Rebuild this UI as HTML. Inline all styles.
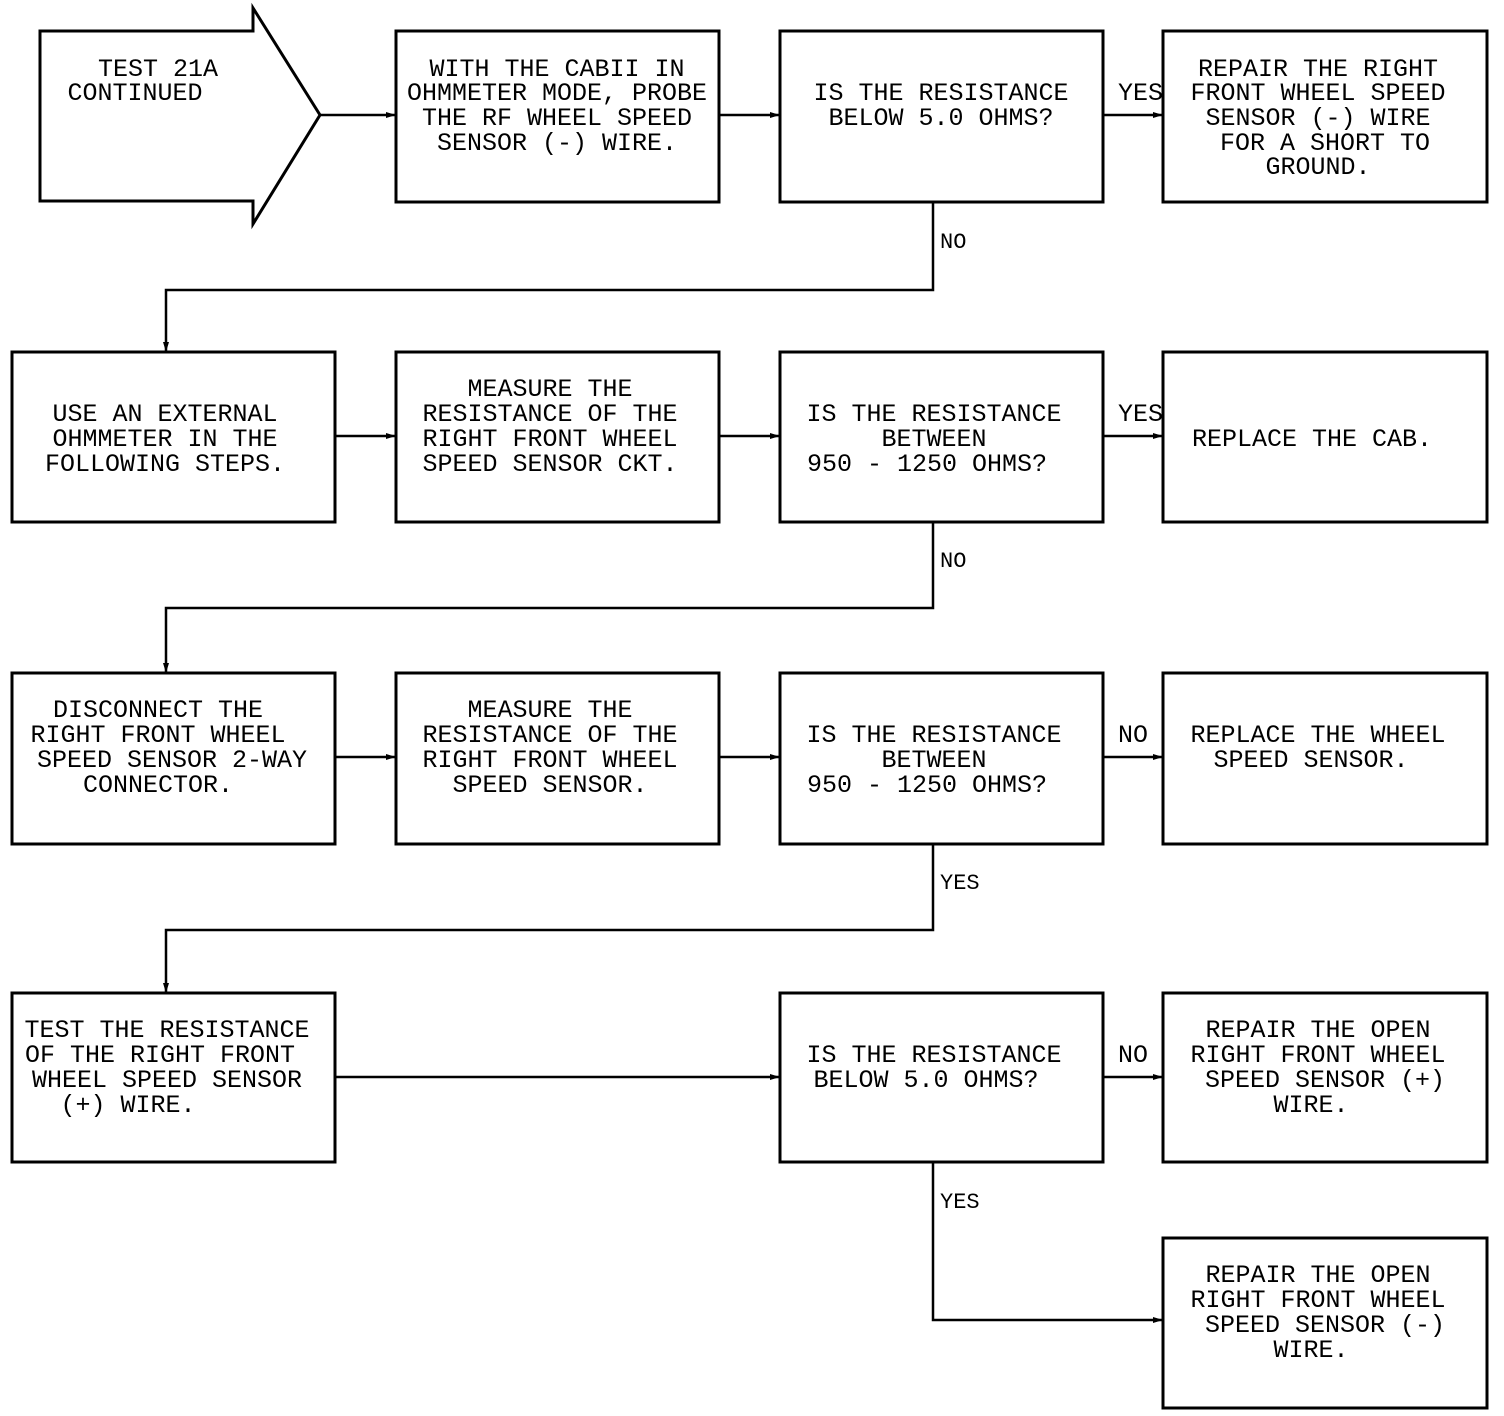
<!DOCTYPE html>
<html><head><style>
html,body{margin:0;padding:0;background:#fff;}
svg{display:block}
text{font-family:"Liberation Mono",monospace;font-size:25px;fill:#000;text-anchor:middle}
.l{text-anchor:start}
</style></head><body>
<svg width="1504" height="1416" viewBox="0 0 1504 1416">
<defs><marker id="a" markerWidth="10" markerHeight="8" refX="9" refY="4" orient="auto" markerUnits="userSpaceOnUse"><path d="M0,1 L10,4 L0,7Z" fill="#000"/></marker></defs>
<g fill="none" stroke="#000" stroke-width="3">
<path d="M40,31 H253 V8 L320,115 L253,224 V201 H40 Z"/>
<rect x="396" y="31" width="323" height="171"/>
<rect x="780" y="31" width="323" height="171"/>
<rect x="1163" y="31" width="324" height="171"/>
<rect x="12" y="352" width="323" height="170"/>
<rect x="396" y="352" width="323" height="170"/>
<rect x="780" y="352" width="323" height="170"/>
<rect x="1163" y="352" width="324" height="170"/>
<rect x="12" y="673" width="323" height="171"/>
<rect x="396" y="673" width="323" height="171"/>
<rect x="780" y="673" width="323" height="171"/>
<rect x="1163" y="673" width="324" height="171"/>
<rect x="12" y="993" width="323" height="169"/>
<rect x="780" y="993" width="323" height="169"/>
<rect x="1163" y="993" width="324" height="169"/>
<rect x="1163" y="1238" width="324" height="170"/>
</g>
<g fill="none" stroke="#000" stroke-width="2.5" marker-end="url(#a)">
<path d="M320,115 H395"/><path d="M719,115 H779"/><path d="M1103,115 H1162"/>
<path d="M933,202 V290 H166 V351"/>
<path d="M335,436 H395"/><path d="M719,436 H779"/><path d="M1103,436 H1162"/>
<path d="M933,522 V608 H166 V672"/>
<path d="M335,757 H395"/><path d="M719,757 H779"/><path d="M1103,757 H1162"/>
<path d="M933,844 V930 H166 V992"/>
<path d="M335,1077 H779"/><path d="M1103,1077 H1162"/>
<path d="M933,1162 V1320 H1162"/>
</g>
<text x="158" y="76">TEST 21A</text>
<text x="135" y="100">CONTINUED</text>
<text x="557" y="76">WITH THE CABII IN</text>
<text x="557" y="100">OHMMETER MODE, PROBE</text>
<text x="557" y="125">THE RF WHEEL SPEED</text>
<text x="557" y="150">SENSOR (-) WIRE.</text>
<text x="941" y="100">IS THE RESISTANCE</text>
<text x="941" y="125">BELOW 5.0 OHMS?</text>
<text x="1318" y="76">REPAIR THE RIGHT</text>
<text x="1318" y="100">FRONT WHEEL SPEED</text>
<text x="1318" y="125">SENSOR (-) WIRE</text>
<text x="1325" y="150">FOR A SHORT TO</text>
<text x="1318" y="174">GROUND.</text>
<text class="l" x="1118" y="100">YES</text>
<text class="l" x="940" y="248" style="font-size:22px">NO</text>
<text x="165" y="421">USE AN EXTERNAL</text>
<text x="165" y="446">OHMMETER IN THE</text>
<text x="165" y="471">FOLLOWING STEPS.</text>
<text x="550" y="396">MEASURE THE</text>
<text x="550" y="421">RESISTANCE OF THE</text>
<text x="550" y="446">RIGHT FRONT WHEEL</text>
<text x="550" y="471">SPEED SENSOR CKT.</text>
<text x="934" y="421">IS THE RESISTANCE</text>
<text x="934" y="446">BETWEEN</text>
<text x="927" y="471">950 - 1250 OHMS?</text>
<text class="l" x="1118" y="421">YES</text>
<text x="1312" y="446">REPLACE THE CAB.</text>
<text class="l" x="940" y="567" style="font-size:22px">NO</text>
<text x="158" y="717">DISCONNECT THE</text>
<text x="158" y="742">RIGHT FRONT WHEEL</text>
<text x="172" y="767">SPEED SENSOR 2-WAY</text>
<text x="158" y="792">CONNECTOR.</text>
<text x="550" y="717">MEASURE THE</text>
<text x="550" y="742">RESISTANCE OF THE</text>
<text x="550" y="767">RIGHT FRONT WHEEL</text>
<text x="550" y="792">SPEED SENSOR.</text>
<text x="934" y="742">IS THE RESISTANCE</text>
<text x="934" y="767">BETWEEN</text>
<text x="927" y="792">950 - 1250 OHMS?</text>
<text class="l" x="1118" y="742">NO</text>
<text x="1318" y="742">REPLACE THE WHEEL</text>
<text x="1311" y="767">SPEED SENSOR.</text>
<text class="l" x="940" y="889" style="font-size:22px">YES</text>
<text x="167" y="1037">TEST THE RESISTANCE</text>
<text x="160" y="1062">OF THE RIGHT FRONT</text>
<text x="167" y="1087">WHEEL SPEED SENSOR</text>
<text x="128" y="1112">(+) WIRE.</text>
<text x="934" y="1062">IS THE RESISTANCE</text>
<text x="926" y="1087">BELOW 5.0 OHMS?</text>
<text class="l" x="1118" y="1062">NO</text>
<text x="1318" y="1037">REPAIR THE OPEN</text>
<text x="1318" y="1062">RIGHT FRONT WHEEL</text>
<text x="1325" y="1087">SPEED SENSOR (+)</text>
<text x="1311" y="1112">WIRE.</text>
<text class="l" x="940" y="1208" style="font-size:22px">YES</text>
<text x="1318" y="1282">REPAIR THE OPEN</text>
<text x="1318" y="1307">RIGHT FRONT WHEEL</text>
<text x="1325" y="1332">SPEED SENSOR (-)</text>
<text x="1311" y="1357">WIRE.</text>
</svg>
</body></html>
